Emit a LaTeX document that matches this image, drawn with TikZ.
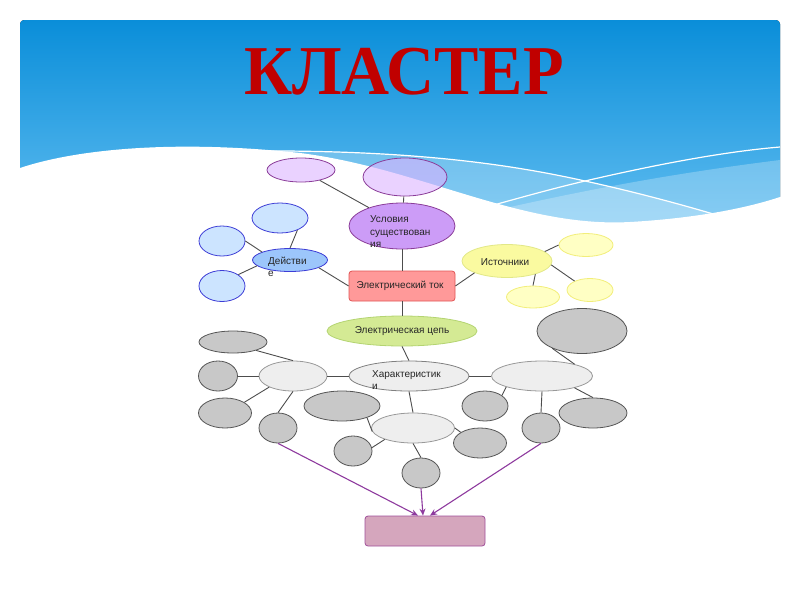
\documentclass[tikz,border=0pt]{standalone}
\usepackage{fontspec}
\setmainfont{Liberation Sans}
\newfontfamily\titlefont{Liberation Serif}
\usetikzlibrary{shapes.geometric,arrows.meta}
\definecolor{skytop}{HTML}{0A8ED9}
\definecolor{skybot}{HTML}{66C0F2}
\definecolor{titlered}{HTML}{C00000}
\definecolor{lnk}{HTML}{4D4D4D}
\definecolor{purpfill}{HTML}{DCB4FF}
\definecolor{purpline}{HTML}{8B3D99}
\definecolor{condfill}{HTML}{CC9CF7}
\definecolor{bluefill}{HTML}{CCE4FF}
\definecolor{blueline}{HTML}{3D3DD6}
\definecolor{actfill}{HTML}{9CC6FB}
\definecolor{curfill}{HTML}{FF9999}
\definecolor{curline}{HTML}{E05555}
\definecolor{srcfill}{HTML}{FAFAA0}
\definecolor{srcline}{HTML}{E2E888}
\definecolor{yelfill}{HTML}{FFFFC4}
\definecolor{yelline}{HTML}{F2EE7A}
\definecolor{circfill}{HTML}{D4EA94}
\definecolor{circline}{HTML}{B4D472}
\definecolor{ltfill}{HTML}{EEEEEE}
\definecolor{ltline}{HTML}{999999}
\definecolor{gyfill}{HTML}{C8C8C8}
\definecolor{gyline}{HTML}{555555}
\definecolor{boxfill}{HTML}{D5A6BD}
\definecolor{boxline}{HTML}{A0509A}
\definecolor{arr}{HTML}{8E3A9E}
\tikzset{
  ov/.style={ellipse,inner sep=0pt,line width=0.8pt},
  purp/.style={ov,draw=purpline,fill=purpfill,fill opacity=0.6},
  cond/.style={ov,draw=purpline,fill=condfill},
  blu/.style={ov,draw=blueline,fill=bluefill},
  act/.style={ov,draw=blueline,fill=actfill},
  src/.style={ov,draw=srcline,fill=srcfill},
  yel/.style={ov,draw=yelline,fill=yelfill},
  circ/.style={ov,draw=circline,fill=circfill},
  lt/.style={ov,draw=ltline,fill=ltfill},
  gy/.style={ov,draw=gyline,fill=gyfill},
  lbl/.style={inner sep=0pt,font=\fontsize{10}{12.5}\selectfont,text=black!85},
  lnkline/.style={draw=lnk,line width=0.9pt},
  arrline/.style={draw=arr,line width=1.1pt,-{Stealth[open,length=7pt,width=6pt]}}
}
\begin{document}
\begin{tikzpicture}[x=1pt,y=-1pt]
\useasboundingbox (0,0) rectangle (800,600);
% background
\fill[top color=skytop,bottom color=skybot,rounded corners=4pt] (20,20) rectangle (780,240);
\fill[white,opacity=0.25] (250,151) .. controls (400,150) and (500,162) .. (585,181)
   .. controls (640,193) and (690,207) .. (720,216) -- (720,240) -- (250,240) -- cycle;
\fill[white,opacity=0.25] (430,225) .. controls (520,205) and (620,180) .. (780,160) -- (780,240) -- (430,240) -- cycle;
\fill[white] (18,169) -- (20,168) .. controls (80,148) and (180,140) .. (300,153)
   .. controls (420,168) and (520,228) .. (630,222)
   .. controls (700,218) and (750,207) .. (780,197) -- (783,196) -- (783,250) -- (18,250) -- cycle;
\draw[white,line width=1.2pt] (250,151) .. controls (400,150) and (500,162) .. (585,181)
   .. controls (640,193) and (690,207) .. (720,216);
\draw[white,line width=1.2pt] (490,206) .. controls (530,195) and (555,188) .. (585,181)
   .. controls (650,166) and (720,152) .. (780,147);
% title
\node[text=titlered,inner sep=0pt] (title) at (404,71.5)
  {\scalebox{0.95}[1]{\titlefont\bfseries\fontsize{70}{70}\selectfont КЛАСТЕР}};
% nodes
\node[purp,minimum width=68pt,minimum height=24pt] (P1) at (301,170) {};
\node[purp,minimum width=84pt,minimum height=38pt] (P2) at (405,177) {};
\node[cond,minimum width=106pt,minimum height=46pt] (U) at (402,226) {};
\node[blu,minimum width=56pt,minimum height=30pt] (B1) at (280,218) {};
\node[blu,minimum width=46pt,minimum height=30pt] (B2) at (222,241) {};
\node[blu,minimum width=46pt,minimum height=31pt] (B3) at (222,286) {};
\node[act,minimum width=75pt,minimum height=23pt] (D) at (290,260) {};
\node[rectangle,rounded corners=3pt,draw=curline,fill=curfill,line width=0.8pt,minimum width=106pt,minimum height=30pt] (T) at (402,286) {};
\node[src,minimum width=90pt,minimum height=33pt] (I) at (507,261) {};
\node[yel,minimum width=54pt,minimum height=23pt] (Y1) at (586,245) {};
\node[yel,minimum width=46pt,minimum height=23pt] (Y2) at (590,290) {};
\node[yel,minimum width=53pt,minimum height=22pt] (Y3) at (533,297) {};
\node[circ,minimum width=150pt,minimum height=30pt] (C) at (402,331) {};
\node[lt,minimum width=120pt,minimum height=30pt,draw=gray] (H) at (409,376) {};
\node[lt,minimum width=68pt,minimum height=30pt] (L) at (293,376) {};
\node[lt,minimum width=101pt,minimum height=30pt] (R) at (542,376) {};
\node[lt,minimum width=83pt,minimum height=30pt] (M) at (413,428) {};
\node[gy,minimum width=68pt,minimum height=22pt] (G1) at (233,342) {};
\node[gy,minimum width=39pt,minimum height=30pt] (G2) at (218,376) {};
\node[gy,minimum width=53pt,minimum height=30pt] (G3) at (225,413) {};
\node[gy,minimum width=38pt,minimum height=30pt] (G4) at (278,428) {};
\node[gy,minimum width=76pt,minimum height=30pt] (G5) at (342,406) {};
\node[gy,minimum width=38pt,minimum height=30pt] (G6) at (353,451) {};
\node[gy,minimum width=38pt,minimum height=30pt] (G7) at (421,473) {};
\node[gy,minimum width=53pt,minimum height=30pt] (G8) at (480,443) {};
\node[gy,minimum width=46pt,minimum height=30pt] (G9) at (485,406) {};
\node[gy,minimum width=38pt,minimum height=30pt] (G10) at (541,428) {};
\node[gy,minimum width=90pt,minimum height=45pt] (G11) at (582,331) {};
\node[gy,minimum width=68pt,minimum height=30pt] (G12) at (593,413) {};
\node[rectangle,rounded corners=3pt,draw=boxline,fill=boxfill,line width=0.8pt,minimum width=120pt,minimum height=30pt] (Box) at (425,531) {};
% labels
\node[lbl,anchor=west,align=left] (Ut) at (370,232) {Условия\\существован\\ия};
\node[lbl,anchor=west,align=left] (Dt) at (268,267) {Действи\\е};
\node[lbl] (Tt) at (400,286) {Электрический ток};
\node[lbl] (It) at (505,262) {Источники};
\node[lbl] (Ct) at (402,331) {Электрическая цепь};
\node[lbl,anchor=west,align=left] (Ht) at (372,380) {Характеристик\\и};
% connectors
\draw[lnkline] (P1) -- (U);
\draw[lnkline] (P2) -- (U);
\draw[lnkline] (U.south) -- (T.north);
\draw[lnkline] (B1.-35) -- (D.north);
\draw[lnkline] (B2.east) -- (D.164);
\draw[lnkline] (B3.35) -- (D.190);
\draw[lnkline] (D.-15) -- (T.west);
\draw[lnkline] (T.east) -- (I.200);
\draw[lnkline] (I.14) -- (Y1.west);
\draw[lnkline] (I.-5) -- (Y2.150);
\draw[lnkline] (I.-25) -- (Y3.north);
\draw[lnkline] (T.south) -- (C.north);
\draw[lnkline] (C.south) -- (H.north);
\draw[lnkline] (L.east) -- (H.west);
\draw[lnkline] (H.east) -- (R.west);
\draw[lnkline] (H.south) -- (M.north);
\draw[lnkline] (G1.-20) -- (L.north);
\draw[lnkline] (G2.east) -- (L.west);
\draw[lnkline] (G3.29) -- (L.205);
\draw[lnkline] (G4.north) -- (L.south);
\draw[lnkline] (G5.-25) -- (M.185);
\draw[lnkline] (G6.10) -- (M.202);
\draw[lnkline] (G7.north) -- (M.south);
\draw[lnkline] (G8.151) -- (M.east);
\draw[lnkline] (G9.32) -- (R.197);
\draw[lnkline] (G10.north) -- (R.south);
\draw[lnkline] (G11.210) -- (R.20);
\draw[lnkline] (G12.north) -- (R.-20);
\draw[arrline] (G4.south) -- ([xshift=-7pt]Box.north);
\draw[arrline] (G7.south) -- ([xshift=-2pt]Box.north);
\draw[arrline] (G10.south) -- ([xshift=5pt]Box.north);
\end{tikzpicture}
\end{document}
